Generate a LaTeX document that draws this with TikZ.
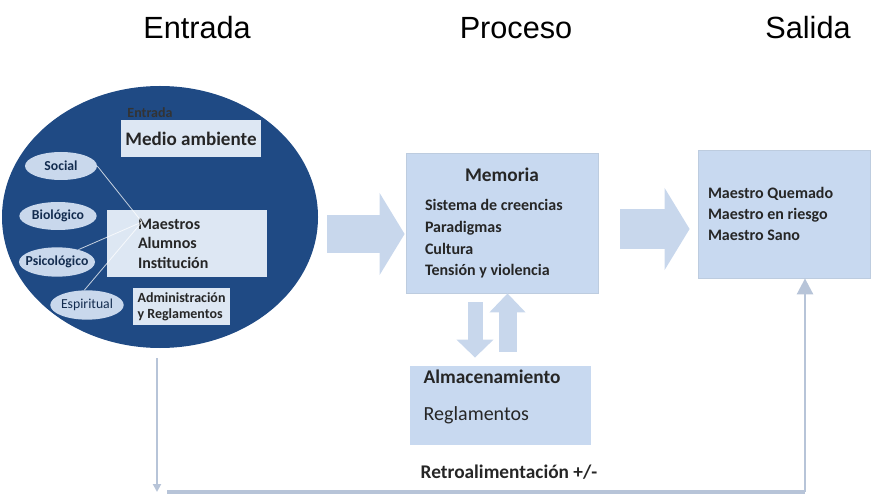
\documentclass[tikz,border=0pt]{standalone}
\usepackage{fontspec}
\setmainfont{Carlito}
\newfontfamily\titlefont{Liberation Sans}
\usepackage{xcolor}
\usetikzlibrary{arrows.meta, shapes.geometric}
\definecolor{navy}{HTML}{1F4A84}
\definecolor{factorblue}{HTML}{C9D8EC}
\definecolor{boxblue}{HTML}{C8D9F0}
\definecolor{arrowblue}{HTML}{C8D7EC}
\definecolor{innerbox}{HTML}{DDE7F3}
\definecolor{fbgray}{HTML}{B7C4D8}
\begin{document}
\begin{tikzpicture}[x=0.75pt, y=-0.75pt,
titletxt/.style={font=\titlefont\fontsize{23}{26}\selectfont},
factor/.style={ellipse, fill=factorblue, inner sep=0pt, minimum height=21pt, text=navy!60!black, font=\bfseries\fontsize{10.3}{12}\selectfont},
innerbx/.style={fill=innerbox, inner sep=3pt, text=black!85},
procbox/.style={draw=boxblue!85!gray, fill=boxblue, line width=0.6pt, text=black!85},
blockarr/.style={arrowblue, line width=28.5pt, -{Triangle[length=18.75pt, width=60.75pt]}},
linkline/.style={white, opacity=0.75, line width=0.6pt},
fbline/.style={fbgray, line width=2pt}
]
\useasboundingbox (0,0) rectangle (871,495);
\node[titletxt] (tEntrada) at (197,28) {Entrada};
\node[titletxt] (tProceso) at (516,28) {Proceso};
\node[titletxt] (tSalida) at (808,28) {Salida};
\node[ellipse, fill=navy, minimum width=237pt, minimum height=196.5pt, inner sep=0pt] (entrada) at (160,217) {};
\node[font=\bfseries\fontsize{10.5}{12}\selectfont, text=black!80, inner sep=0pt] (entradalbl) at (150,113) {Entrada};
\node[innerbx, minimum width=103.5pt, minimum height=27.75pt, font=\bfseries\fontsize{14.3}{16}\selectfont] (medio) at (191,138.5) {Medio ambiente};
\node[factor, minimum width=54pt] (social) at (61,166) {Social};
\node[factor, minimum width=58pt] (biologico) at (58,216) {Biológico};
\node[factor, minimum width=57pt, minimum height=22pt, inner xsep=-5pt] (psicologico) at (57,262) {Psicológico};
\node[factor, minimum width=55pt, minimum height=22pt, font=\fontsize{10.3}{12}\selectfont] (espiritual) at (87,305) {Espiritual};
\node[innerbx, text width=73.5pt, inner xsep=23pt, minimum height=50pt, align=flush left, font=\bfseries\fontsize{12}{14.6}\selectfont] (actores) at (187,243.5) {Maestros\\Alumnos\\Institución};
\node[innerbx, minimum width=73pt, minimum height=25pt, inner xsep=2pt, align=left, font=\bfseries\fontsize{10.5}{12}\selectfont] (admin) at (181.5,306.5) {Administración\\y Reglamentos};
\coordinate (hub) at (142,222);
\draw[linkline] (social.east) -- (hub);
\draw[linkline] (psicologico.30) -- (hub);
\draw[linkline] (espiritual.100) -- (hub);
\node[procbox, minimum width=144pt, minimum height=105pt, text width=115.5pt, inner xsep=14.25pt, align=flush left, font=\bfseries\fontsize{12}{16.3}\selectfont] (memoria) at (502,223) {\makebox[115.5pt]{\fontsize{14.5}{16}\selectfont Memoria}\\[6pt]Sistema de creencias\\Paradigmas\\Cultura\\Tensión y violencia};
\node[procbox, minimum width=129pt, minimum height=96pt, text width=114pt, inner xsep=7.5pt, align=flush left, font=\bfseries\fontsize{12}{15.75}\selectfont] (salida) at (784,214) {Maestro Quemado\\Maestro en riesgo\\Maestro Sano};
\node[procbox, draw=none, minimum width=135.75pt, minimum height=59.25pt] (almac) at (500.5,405.5) {};
\node[font=\bfseries\fontsize{14.5}{16}\selectfont, text=black!85, anchor=west] (almtit) at (419,377) {Almacenamiento};
\node[font=\fontsize{15}{16}\selectfont, text=black!85, anchor=west] (almreg) at (419,415) {Reglamentos};
\node[font=\bfseries\fontsize{14.5}{16}\selectfont, text=black!85] (retro) at (509,472) {Retroalimentación +/-};
\coordinate (a1) at ([yshift=-8.25pt]memoria.west);
\coordinate (a2) at ([yshift=-4.5pt]memoria.east);
\draw[blockarr, shorten <=6.75pt, shorten >=0.75pt] (entrada.east |- a1) -- (a1);
\draw[blockarr, line width=30pt, shorten <=16.5pt, shorten >=6pt] (a2) -- (salida.west |- a2);
\draw[arrowblue, line width=11.25pt, -{Triangle[length=13.5pt, width=27pt]}, shorten <=6.75pt, shorten >=6pt] ([xshift=-20.25pt]memoria.south) -- ([xshift=-20.25pt]memoria.south |- almac.north);
\draw[arrowblue, line width=13.5pt, -{Triangle[length=14.25pt, width=26.25pt]}, shorten <=10.5pt] ([xshift=5.25pt]almac.north) -- ([xshift=5.25pt]almac.north |- memoria.south);
\coordinate (fbL) at (157,492);
\coordinate (fbR) at (805,492);
\draw[fbline, line width=1.5pt, -{Triangle[length=6pt, width=6pt]}, shorten <=7.5pt] (entrada.south -| fbL) -- (fbL);
\draw[fbline, line width=2.5pt] ([xshift=7.5pt]fbL) -- (fbR);
\draw[fbline, -{Triangle[length=12pt, width=12pt]}] (fbR) -- (salida.south -| fbR);
\end{tikzpicture}
\end{document}
